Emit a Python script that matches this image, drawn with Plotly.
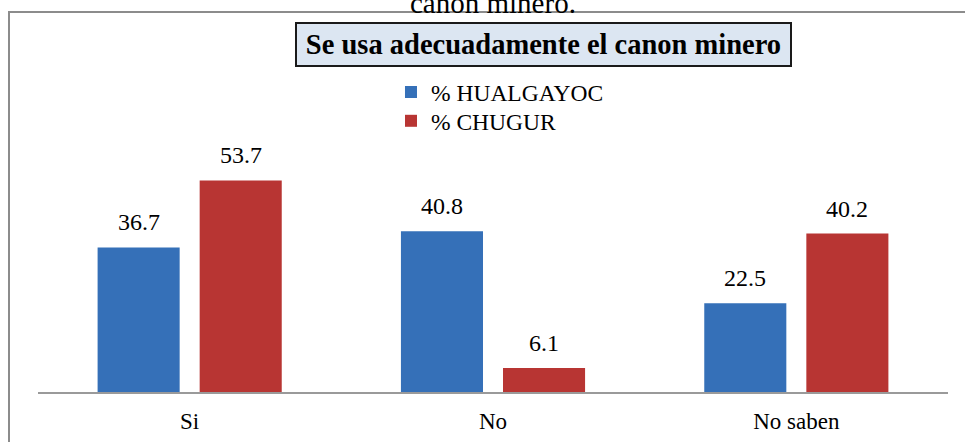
import plotly.graph_objects as go

categories = ["Si", "No", "No saben"]
hualgayoc = [36.7, 40.8, 22.5]
chugur = [53.7, 6.1, 40.2]
series_names = ["% HUALGAYOC", "% CHUGUR"]
chart_title = "Se usa adecuadamente el canon minero"
caption_above = "canon minero."

SERIF = "Liberation Serif, Times New Roman, serif"
BLUE = "#3570B8"
RED = "#B83533"

fig = go.Figure()
fig.add_trace(go.Bar(x=categories, y=hualgayoc, name=series_names[0],
                     legend="legend",
                     marker=dict(color=BLUE, line=dict(width=0))))
fig.add_trace(go.Bar(x=categories, y=chugur, name=series_names[1],
                     legend="legend2",
                     marker=dict(color=RED, line=dict(width=0))))

# value labels above bars
for vals, shift in ((hualgayoc, -51), (chugur, 51)):
    for c, v in zip(categories, vals):
        fig.add_annotation(x=c, y=v, text=f"{v:.1f}", showarrow=False,
                           xref="x", yref="y", yanchor="bottom",
                           xshift=shift, yshift=10,
                           font=dict(family=SERIF, size=24, color="#000"))

# boxed title
fig.add_annotation(x=0.5555, y=0.9135, xref="paper", yref="paper",
                   text=f"<b>{chart_title}</b>", showarrow=False,
                   xanchor="center", yanchor="middle",
                   width=489, height=37, align="center",
                   bgcolor="#DCE6F2", bordercolor="#1a1a1a", borderwidth=2,
                   borderpad=2,
                   font=dict(family=SERIF, size=28.5, color="#000"))

# cut-off caption above the chart
fig.add_annotation(x=0.5, y=1.0, xref="paper", yref="paper",
                   text=caption_above, showarrow=False,
                   xanchor="center", yanchor="bottom", yshift=-9,
                   font=dict(family=SERIF, size=29, color="#000"))

# outer chart border
fig.add_shape(type="rect", xref="paper", yref="paper",
              x0=-29 / 910, x1=1.05, y0=-0.3, y1=1.0,
              line=dict(color="#8c8c8c", width=2), fillcolor="rgba(0,0,0,0)",
              layer="below")

legend_style = dict(xanchor="left", yanchor="top",
                    font=dict(family=SERIF, size=23.5, color="#000"),
                    bgcolor="rgba(0,0,0,0)")

fig.update_layout(
    width=965, height=442,
    margin=dict(l=38, r=17, t=12, b=50, autoexpand=False),
    paper_bgcolor="white", plot_bgcolor="white",
    barmode="group", bargap=0.327, bargroupgap=0.196,
    showlegend=True,
    legend=dict(x=0.3879, y=0.847, **legend_style),
    legend2=dict(x=0.3879, y=0.771, **legend_style),
    xaxis=dict(showline=True, linecolor="#9a9a9a", linewidth=2,
               showgrid=False, ticks="", zeroline=False, automargin=False,
               tickfont=dict(family=SERIF, size=23, color="#000"),
               ticklabelstandoff=7),
    yaxis=dict(range=[0, 380 / 3.94], visible=False, showgrid=False,
               zeroline=False, automargin=False),
)

fig.write_html("out.html",
               config={"displayModeBar": False},
               post_script="document.body.style.margin='0';")
